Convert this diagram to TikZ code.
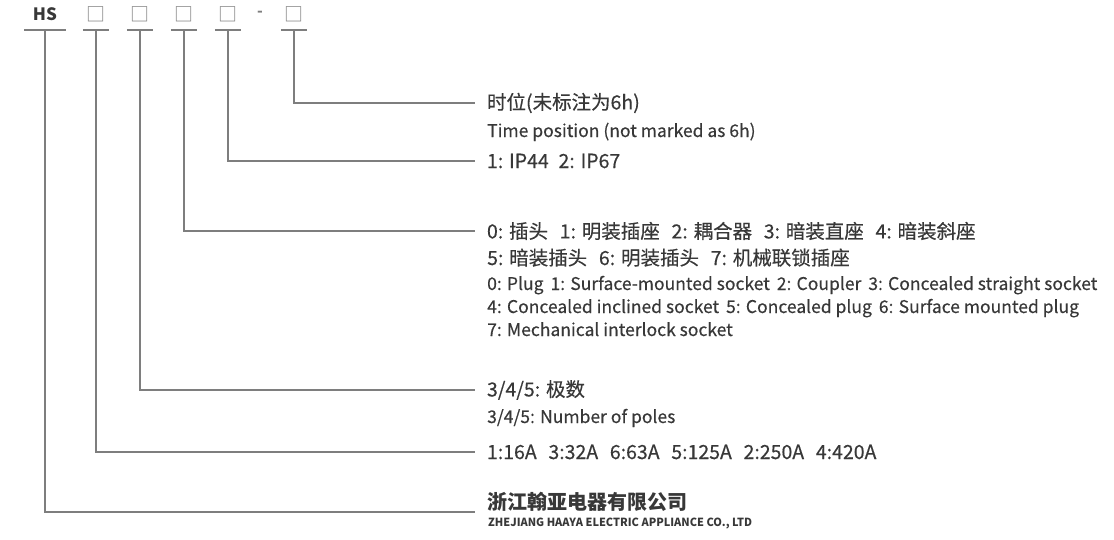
\documentclass[tikz,border=0pt]{standalone}
\usepackage{fontspec}
\usepackage{graphicx}
\setmainfont{Noto Sans CJK SC}
\newfontfamily\medfont{Noto Sans CJK SC}[FakeBold=0.35]
\definecolor{txt}{HTML}{383838}
\definecolor{ln}{HTML}{7E7E7E}
\begin{document}
\begin{tikzpicture}[x=1pt,y=-1pt,
  conn/.style={draw=ln,line width=1.3pt},
  codebox/.style={inner sep=0pt,text=txt,minimum height=32pt,anchor=south},
  sqbox/.style={codebox,text=ln,font=\fontsize{19}{19}\selectfont},
  lblfirst/.style={anchor=west,inner sep=0pt,outer xsep=12pt,text=txt},
  lbl/.style={anchor=base west,inner sep=0pt,text=txt},
  cn/.style={font=\medfont\fontsize{19.5}{19.5}\selectfont},
  en/.style={font=\medfont\fontsize{17.5}{17.5}\selectfont},
]
\useasboundingbox (0,0) rectangle (1114,539);
% code header
\node[codebox,font=\bfseries\fontsize{17}{17}\selectfont,minimum width=41pt] (hs) at (45,30) {HS};
\node[sqbox,minimum width=26pt] (c1) at (96,30) {□};
\node[sqbox,minimum width=26pt] (c2) at (140,30) {□};
\node[sqbox,minimum width=26pt] (c3) at (184,30) {□};
\node[sqbox,minimum width=26pt] (c4) at (228,30) {□};
\node[codebox,text=ln,font=\bfseries\fontsize{15}{15}\selectfont] (dash) at (260,30) {-};
\node[sqbox,minimum width=26pt] (c5) at (294,30) {□};
\foreach \n in {hs,c1,c2,c3,c4,c5}{
  \draw[conn] (\n.south west) -- (\n.south east);
}
% labels
\node[lblfirst,cn] (t5) at (475,103) {时位(未标注为6h)};
\node[lbl,en] (t5e) at (487,137) {Time position (not marked as 6h)};
\node[lblfirst,cn] (t4) at (475,161) {1: IP44\hspace{0.5em}2: IP67};
\node[lblfirst,cn] (t3) at (475,231) {0: 插头\hspace{0.6em}1: 明装插座\hspace{0.6em}2: 耦合器\hspace{0.6em}3: 暗装直座\hspace{0.6em}4: 暗装斜座};
\node[lbl,cn] (t3b) at (487,265) {5: 暗装插头\hspace{0.6em}6: 明装插头\hspace{0.6em}7: 机械联锁插座};
\node[lbl,en] (t3c) at (487,290) {0: Plug\hspace{0.4em}1: Surface-mounted socket\hspace{0.4em}2: Coupler\hspace{0.4em}3: Concealed straight socket};
\node[lbl,en] (t3d) at (487,313) {4: Concealed inclined socket\hspace{0.4em}5: Concealed plug\hspace{0.4em}6: Surface mounted plug};
\node[lbl,en] (t3e) at (487,336) {7: Mechanical interlock socket};
\node[lblfirst,cn] (t2) at (475,390) {3/4/5: 极数};
\node[lbl,en] (t2e) at (487,423) {3/4/5: Number of poles};
\node[lblfirst,cn] (t1) at (475,452) {1:16A\hspace{0.6em}3:32A\hspace{0.6em}6:63A\hspace{0.6em}5:125A\hspace{0.6em}2:250A\hspace{0.6em}4:420A};
\node[lblfirst,font=\bfseries\fontsize{20}{20}\selectfont] (t0) at (475,502) {浙江翰亚电器有限公司};
\node[lbl] (t0e) at (488,526) {\resizebox{264pt}{8.5pt}{\bfseries ZHEJIANG HAAYA ELECTRIC APPLIANCE CO., LTD}};
% connectors
\draw[conn] (c5.south) |- (t5.west);
\draw[conn] (c4.south) |- (t4.west);
\draw[conn] (c3.south) |- (t3.west);
\draw[conn] (c2.south) |- (t2.west);
\draw[conn] (c1.south) |- (t1.west);
\draw[conn] (hs.south) |- ([yshift=-10pt]t0.west);
\end{tikzpicture}
\end{document}
